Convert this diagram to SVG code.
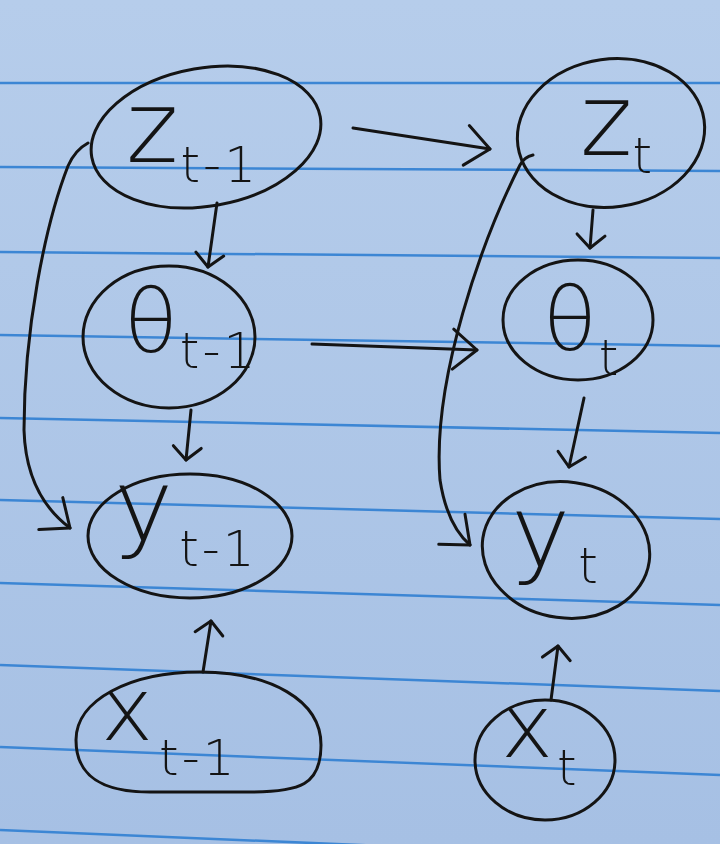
<svg xmlns="http://www.w3.org/2000/svg" width="720" height="844" viewBox="0 0 720 844">
  <defs>
    <linearGradient id="paper" x1="0" y1="0" x2="0" y2="1">
      <stop offset="0" stop-color="#b6cdeb"/>
      <stop offset="1" stop-color="#a6c0e4"/>
    </linearGradient>
    <marker id="big" markerUnits="userSpaceOnUse" markerWidth="50" markerHeight="50" refX="0" refY="0" viewBox="-30 -25 32 50" orient="auto" overflow="visible">
      <path d="M -24 -20 L 0 0 L -24 20" fill="none" stroke="#141414" stroke-width="3" stroke-linecap="round" stroke-linejoin="round"/>
    </marker>
    <marker id="small" markerUnits="userSpaceOnUse" markerWidth="40" markerHeight="40" refX="0" refY="0" viewBox="-20 -20 22 40" orient="auto" overflow="visible">
      <path d="M -13 -14 L 0 0 L -13 14" fill="none" stroke="#141414" stroke-width="3" stroke-linecap="round" stroke-linejoin="round"/>
    </marker>
  </defs>
  <style>
    .rule { stroke: #3c86d4; stroke-width: 2.5; fill: none; }
    .node { fill: none; stroke: #141414; stroke-width: 3; }
    .edge { fill: none; stroke: #141414; stroke-width: 3; stroke-linecap: round; }
    .big { marker-end: url(#big); }
    .small { marker-end: url(#small); }
    .lbl { font-family: "DejaVu Sans", "Liberation Sans", sans-serif; font-weight: 200; font-size: 100px; fill: #141414; }
    .th { font-size: 88px; }
    .xs { font-size: 88px; }
    .sub { font-size: 50px; letter-spacing: 3px; }
  </style>

  <rect x="0" y="0" width="720" height="844" fill="url(#paper)"/>
  <g id="paper-rules">
    <line class="rule" x1="0" y1="83" x2="720" y2="83"/>
    <line class="rule" x1="0" y1="167" x2="720" y2="171"/>
    <line class="rule" x1="0" y1="252" x2="720" y2="258"/>
    <line class="rule" x1="0" y1="335" x2="720" y2="346"/>
    <line class="rule" x1="0" y1="418" x2="720" y2="433"/>
    <line class="rule" x1="0" y1="500" x2="720" y2="519"/>
    <line class="rule" x1="0" y1="583" x2="720" y2="605"/>
    <line class="rule" x1="0" y1="665" x2="720" y2="691"/>
    <line class="rule" x1="0" y1="747" x2="720" y2="775"/>
    <line class="rule" x1="0" y1="830" x2="720" y2="860"/>
  </g>

  <g id="connectors">
    <path class="edge big" d="M 353 128 L 490 149"/>
    <path class="edge small" d="M 217 203 L 208 267"/>
    <path class="edge small" d="M 191 410 L 186 460"/>
    <path class="edge small" d="M 203 672 L 211 621"/>
    <path class="edge big" d="M 88 143 Q 75 150 68 166 C 45 225 24 330 24 430 Q 26 495 70 528"/>
    <path class="edge big" d="M 312 344 L 477 350"/>
    <path class="edge small" d="M 593 210 L 590 248"/>
    <path class="edge small" d="M 584 398 L 569 467"/>
    <path class="edge small" d="M 551 700 L 558 646"/>
    <path class="edge big" d="M 533 155 Q 524 157 520 165 C 482 240 432 380 440 480 Q 447 525 470 545"/>
  </g>

  <g id="z_prev">
    <ellipse class="node" cx="206" cy="137" rx="116" ry="69" transform="rotate(-10 206 137)"/>
    <text class="lbl" x="126" y="162">z<tspan class="sub" dx="2" dy="20">t-1</tspan></text>
  </g>
  <g id="z_t">
    <ellipse class="node" cx="611" cy="133" rx="94" ry="74" transform="rotate(-8 611 133)"/>
    <text class="lbl" x="580" y="155">z<tspan class="sub" dx="0" dy="18">t</tspan></text>
  </g>
  <g id="theta_prev">
    <ellipse class="node" cx="169" cy="337" rx="86" ry="71"/>
    <text class="lbl th" x="124" y="352">θ<tspan class="sub" dx="2" dy="16">t-1</tspan></text>
  </g>
  <g id="theta_t">
    <ellipse class="node" cx="578" cy="320" rx="75" ry="60"/>
    <text class="lbl th" x="543" y="350">θ<tspan class="sub" dx="2" dy="25">t</tspan></text>
  </g>
  <g id="y_prev">
    <ellipse class="node" cx="190" cy="536" rx="102" ry="62"/>
    <text class="lbl" x="114" y="540">y<tspan class="sub" dx="6" dy="26">t-1</tspan></text>
  </g>
  <g id="y_t">
    <ellipse class="node" cx="566" cy="550" rx="84" ry="68" transform="rotate(8 566 550)"/>
    <text class="lbl" x="511" y="566">y<tspan class="sub" dx="8" dy="17">t</tspan></text>
  </g>
  <g id="x_prev">
    <path class="node" d="M 76 740 C 76 700 130 672 200 672 C 270 672 321 700 321 745 C 321 785 300 792 250 792 L 150 792 C 100 792 76 775 76 740 Z"/>
    <text class="lbl xs" x="101" y="740">x<tspan class="sub" dx="6" dy="35">t-1</tspan></text>
  </g>
  <g id="x_t">
    <ellipse class="node" cx="545" cy="760" rx="70" ry="60"/>
    <text class="lbl xs" x="501" y="757">x<tspan class="sub" dx="4" dy="28">t</tspan></text>
  </g>
</svg>
